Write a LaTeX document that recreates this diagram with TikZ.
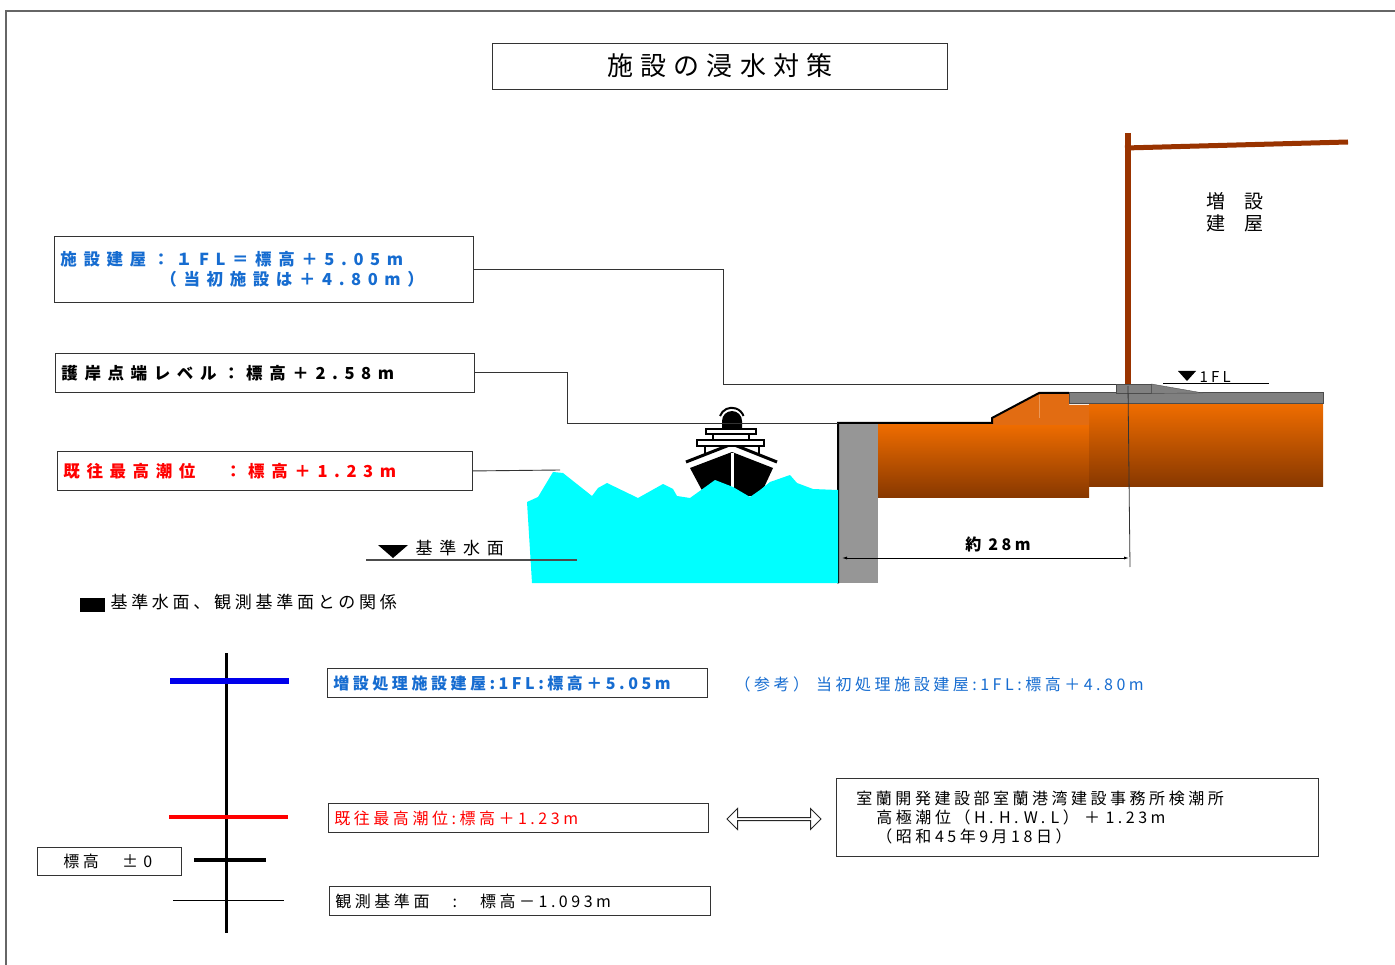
\documentclass[tikz,border=0pt]{standalone}
\usepackage{fontspec}
\setmainfont{Noto Sans CJK JP}
\newfontfamily\spaced[LetterSpace=40]{Noto Sans CJK JP}
\newfontfamily\titlefont[LetterSpace=28]{Noto Sans CJK JP}
\newfontfamily\lspaced[LetterSpace=22]{Noto Sans CJK JP}
\usetikzlibrary{arrows.meta,positioning,shapes.arrows,calc}

\definecolor{tagBlue}{RGB}{22,108,208}
\definecolor{barBlue}{RGB}{0,0,235}
\definecolor{sea}{RGB}{0,255,255}
\definecolor{soilTop}{RGB}{238,108,0}
\definecolor{soilBot}{RGB}{136,56,0}
\definecolor{soilLight}{RGB}{226,108,18}
\definecolor{postBrown}{RGB}{153,51,0}
\definecolor{wallGray}{RGB}{150,150,150}
\definecolor{slabGray}{RGB}{128,128,128}

\begin{document}
\begin{tikzpicture}[x=1pt,y=-1pt,
    tag/.style={draw=black!80,line width=0.9pt,anchor=north west,inner xsep=6pt,inner ysep=0pt,align=left},
    big/.style={font=\spaced\bfseries\fontsize{16.5}{20}\selectfont},
    small/.style={font=\lspaced\fontsize{16}{19}\selectfont},
    smallbf/.style={font=\lspaced\bfseries\fontsize{16}{19}\selectfont},
    lead/.style={black!80,line width=0.9pt},
    dimarr/.style={{Latex[length=5pt,width=3pt]}-{Latex[length=5pt,width=3pt]},line width=0.8pt}]
  \useasboundingbox (0,0) rectangle (1395,965);
  \draw[black!60,line width=1.5pt] (6,965) -- (6,11) -- (1395,11);

  \node[draw=black!80,line width=0.9pt,minimum width=455pt,minimum height=46pt,
        font=\titlefont\fontsize{26}{30}\selectfont] (title) at (720,66) {施設の浸水対策};

  % level tags on the left
  \node[tag,big,text=tagBlue,minimum height=66pt,text width=407pt] (bldg) at (54,236)
    {施設建屋：１FL＝標高＋5.05m\\\hspace*{100pt}（当初施設は＋4.80m）};
  \node[tag,big,minimum height=39pt,text width=407pt] (rev) at (55,353) {護岸点端レベル：標高＋2.58m};
  \node[tag,big,text=red,minimum height=39pt,text width=403pt] (tide) at (57,451) {既往最高潮位　：標高＋1.23m};

  % ground behind the quay
  \shade[top color=soilTop,bottom color=soilBot] (876,425) rectangle (1089,497);
  \shade[top color=soilTop,bottom color=soilBot] (1089,405) rectangle (1323,486);
  \fill[soilLight] (992,425) -- (992,419) -- (1039,393) -- (1069,393) -- (1069,405)
    -- (1089,405) -- (1089,425) -- cycle;
  \draw[soilLight!70!white,line width=0.5pt] (1039,395) -- (1039,418);
  \node[fill=wallGray,anchor=north west,minimum width=40pt,minimum height=160pt,inner sep=0pt] (wall) at (838,423) {};
  \draw[line width=2pt] (wall.south west) -- (wall.north west) -- (992,423) -- (992,418)
    -- (1039,393) -- (1069,393);
  \draw[fill=slabGray,draw=black!70,line width=1pt] (1069,393) rectangle (1323,404);
  \node[draw=black!70,fill=slabGray,anchor=north west,minimum width=35pt,minimum height=9pt,inner sep=0pt] (fl) at (1116,384) {};
  \draw[fill=slabGray,draw=black!70] (fl.north east) -- (1203,393) -- (fl.south east) -- cycle;

  % new building frame
  \draw[postBrown,line width=6pt] (1128,133) -- (1128,384);
  \draw[postBrown,line width=5pt] (1125,148) -- (1348,142);
  \node[font=\fontsize{19}{22}\selectfont,align=center] (newbldg) at (1235,212) {増　設\\建　屋};
  \fill (1178,371) -- (1196,371) -- (1187,381) -- cycle;
  \node[font=\lspaced\fontsize{15}{18}\selectfont,anchor=west] (flmark) at (1196,377) {1FL};
  \draw[line width=0.9pt] (1163,383) -- (1269,383);

  % ship
  \fill (690,468) -- (732,452) -- (773,468) -- (760,496) -- (705,496) -- cycle;
  \draw[white,line width=3pt] (732,453) -- (732,496);
  \draw[line width=3pt] (686,462) -- (732,444) -- (777,462);
  \draw[line width=2pt] (705,446) -- (705,455) (759,446) -- (759,455)
    (713,434) -- (713,440) (749,434) -- (749,440);
  \draw[line width=2pt,fill=white] (697,440) rectangle (764,446);
  \draw[line width=2pt,fill=white] (706,429) rectangle (756,434);
  \fill (722,429) -- (722,421) arc[start angle=180,end angle=0,radius=10pt] -- (742,429) -- cycle;
  \draw[line width=2pt] (720,416) arc[start angle=160,end angle=20,radius=12.5pt];

  % sea
  \fill[sea] (527,502) -- (538,497) -- (553,472) -- (563,473) -- (592,496) -- (598,488)
    -- (607,483) -- (638,498) -- (663,484) -- (673,489) -- (677,496) -- (690,498)
    -- (715,480) -- (733,487) -- (750,497) -- (760,490) -- (770,482) -- (790,475)
    -- (797,483) -- (813,489) -- (838,490) -- (838,583) -- (532,583) -- cycle;
  \coordinate (crest) at (560,470);

  % leaders from the tags
  \draw[lead] (bldg.east) -- ++(250,0) |- (fl.north west);
  \draw[lead] (rev.east) -- ++(93,0) |- (wall.north west);
  \draw[lead] (tide.east) -- (crest);

  % datum and distance
  \draw[black!70,line width=1.2pt] (366,560) -- (577,560);
  \fill (378,545) -- (408,545) -- (393,558) -- cycle;
  \node[font=\spaced\fontsize{17}{20}\selectfont,anchor=west] (datum) at (412,548) {基準水面};
  \draw[black!80,line width=0.8pt] (1128,386) -- (1130,567);
  \coordinate (d1) at (842,558);
  \coordinate (d2) at (1129,558);
  \draw[dimarr] (d1) -- (d2);
  \node[font=\lspaced\bfseries\fontsize{16}{19}\selectfont] (dist) at (998,544) {約 28m};

  % relation of the datum planes
  \fill (80,598) rectangle (105,612);
  \node[font=\lspaced\fontsize{17}{20}\selectfont,anchor=west] (relhead) at (107,602) {基準水面、観測基準面との関係};
  \draw[line width=3pt] (226,653) -- (226,933);
  \draw[barBlue,line width=6pt] (170,681) -- (289,681);
  \draw[red,line width=4pt] (169,817) -- (288,817);
  \draw[line width=4pt] (194,860) -- (266,860);
  \draw[line width=1pt] (173,900) -- (284,900);

  \node[tag,smallbf,text=tagBlue,minimum height=29pt,text width=368pt] (newfl) at (327,668) {増設処理施設建屋:1FL:標高＋5.05m};
  \node[small,text=tagBlue,anchor=west] (oldfl) at (731,684) {（参考） 当初処理施設建屋:1FL:標高＋4.80m};
  \node[tag,small,text=red,minimum height=29pt,text width=368pt] (hist) at (328,803) {既往最高潮位:標高＋1.23m};
  \node[tag,small,minimum height=29pt,text width=369pt] (obs) at (329,886) {観測基準面　:　標高－1.093m};
  \node[tag,small,minimum height=28pt,text width=132pt] (zero) at (37,847) {\hspace*{20pt}標高　± 0};
  \node[double arrow,draw=black!85,line width=1pt,minimum height=94pt,minimum width=21pt,
        double arrow head extend=3pt,inner sep=0pt] (eq) at (774,819) {};
  \node[tag,small,minimum height=78pt,text width=470pt] (muroran) at (836,778)
    {\hspace*{14pt}室蘭開発建設部室蘭港湾建設事務所検潮所\\
     \hspace*{34pt}高極潮位（H. H. W. L） ＋ 1.23m\\
     \hspace*{34pt}（昭和45年9月18日）};
\end{tikzpicture}
\end{document}
